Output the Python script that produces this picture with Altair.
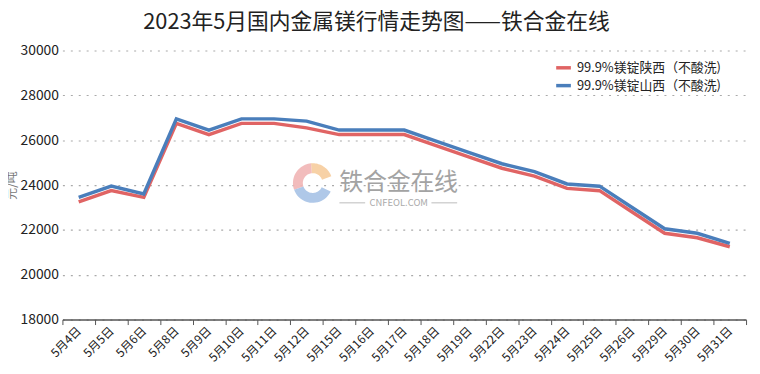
import math
import altair as alt
import pandas as pd

dates = ["5月4日", "5月5日", "5月6日", "5月8日", "5月9日", "5月10日", "5月11日", "5月12日",
         "5月15日", "5月16日", "5月17日", "5月18日", "5月19日", "5月22日", "5月23日", "5月24日",
         "5月25日", "5月26日", "5月29日", "5月30日", "5月31日"]
shaanxi = [23250, 23750, 23450, 26750, 26250, 26750, 26750, 26550, 26250, 26250, 26250,
           25750, 25250, 24750, 24400, 23850, 23750, 22800, 21850, 21650, 21250]
shanxi = [23450, 23950, 23600, 26950, 26450, 26950, 26950, 26850, 26450, 26450, 26450,
          25950, 25450, 24950, 24600, 24050, 23950, 23000, 22050, 21850, 21400]
series_names = ["99.9%镁锭陕西（不酸洗)", "99.9%镁锭山西（不酸洗)"]
series_colors = ["#E06464", "#4A7EBB"]

rows = ([{"date": d, "price": v, "series": series_names[0]} for d, v in zip(dates, shaanxi)] +
        [{"date": d, "price": v, "series": series_names[1]} for d, v in zip(dates, shanxi)])
df = pd.DataFrame(rows)

FONT = "Noto Sans CJK SC"

lines = alt.Chart(df).mark_line(strokeWidth=3.5).encode(
    x=alt.X("date:N", sort=dates, title=None,
            scale=alt.Scale(paddingInner=0, paddingOuter=0),
            axis=alt.Axis(labelAngle=315, labelAlign="right", labelBaseline="middle",
                          labelFontSize=12, labelColor="#222", labelFont=FONT,
                          tickBand="extent", tickSize=5, tickColor="#555",
                          domainColor="#555", domainWidth=1.5, grid=False, labelPadding=4)),
    y=alt.Y("price:Q", title="元/吨",
            scale=alt.Scale(domain=[18000, 30000], nice=False),
            axis=alt.Axis(values=[18000, 20000, 22000, 24000, 26000, 28000, 30000],
                          format="d", labelFontSize=14, labelColor="#222", labelFont=FONT,
                          grid=True, gridDash=[2, 6], gridColor="#AAAAAA", gridWidth=1.2,
                          ticks=False, domain=False, labelPadding=4,
                          titleFont=FONT, titleFontSize=12, titleFontWeight="normal",
                          titleColor="#777", titlePadding=2)),
    color=alt.Color("series:N", sort=series_names,
                    scale=alt.Scale(domain=series_names, range=series_colors),
                    legend=alt.Legend(title=None, orient="none", legendX=497, legendY=8,
                                      symbolType="stroke", symbolSize=220,
                                      symbolStrokeWidth=3.5, labelFontSize=13,
                                      labelFont=FONT, labelColor="#222", rowPadding=1)),
)

# watermark (decoration)
wm_text = alt.Chart(pd.DataFrame({"t": ["铁合金在线"]})).mark_text(
    font=FONT, fontSize=24, color="#9A9A9A", opacity=0.9, align="left", baseline="middle").encode(
    text="t:N", x=alt.value(280), y=alt.value(134))
wm_sub = alt.Chart(pd.DataFrame({"t": ["CNFEOL.COM"]})).mark_text(
    font=FONT, fontSize=9.5, color="#AAAAAA", align="center", baseline="middle").encode(
    text="t:N", x=alt.value(340), y=alt.value(154))
wm_l1 = alt.Chart(pd.DataFrame({"a": [0]})).mark_rule(color="#BBBBBB", strokeWidth=1).encode(
    x=alt.value(280), x2=alt.value(306), y=alt.value(154))
wm_l2 = alt.Chart(pd.DataFrame({"a": [0]})).mark_rule(color="#BBBBBB", strokeWidth=1).encode(
    x=alt.value(373), x2=alt.value(399), y=alt.value(154))


def sector(a1, a2, r_in=0.5, n=24):
    pts_o = [(math.cos(math.radians(a1 + (a2 - a1) * i / n)),
              -math.sin(math.radians(a1 + (a2 - a1) * i / n))) for i in range(n + 1)]
    pts_i = [(r_in * x, r_in * y) for x, y in reversed(pts_o)]
    pts = pts_o + pts_i
    return "M" + " L".join(f"{x:.3f},{y:.3f}" for x, y in pts) + " Z"


logo_parts = [(20, 95, "#F6CC9C"), (95, 200, "#F1B5B5"), (200, 335, "#A6C2E6")]
logo_layers = [
    alt.Chart(pd.DataFrame({"a": [0]})).mark_point(
        shape=sector(a1, a2), filled=True, color=c, opacity=0.9, size=1600, strokeWidth=0).encode(
        x=alt.value(253), y=alt.value(134))
    for a1, a2, c in logo_parts
]

chart = alt.layer(*logo_layers, wm_text, wm_sub, wm_l1, wm_l2, lines).properties(
    width=691, height=272,
    title=alt.TitleParams("2023年5月国内金属镁行情走势图——铁合金在线", font=FONT, fontSize=22,
                          fontWeight="normal", color="#222", anchor="middle", dx=-28, offset=10),
    autosize=alt.AutoSizeParams(type="none"),
    padding={"left": 55, "top": 41, "right": 6, "bottom": 50},
).configure_view(stroke=None)

chart.save("out.html", embed_options={"renderer": "svg", "actions": False})
